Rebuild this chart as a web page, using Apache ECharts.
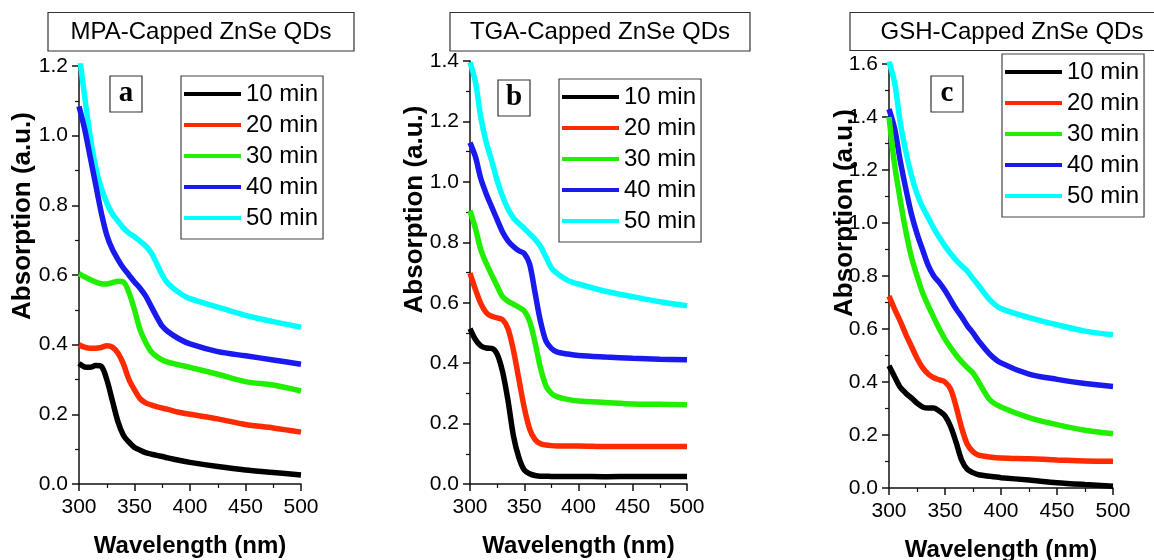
<!DOCTYPE html>
<html>
<head>
<meta charset="utf-8">
<script src="https://cdn.jsdelivr.net/npm/echarts@6/dist/echarts.min.js"></script>
<style>
  html, body { margin: 0; padding: 0; background: #fff; }
  #chart { width: 1154px; height: 560px; }
</style>
</head>
<body>
<div id="chart"></div>
<script>
// wavelength grid (nm), shared by all curves
const wavelengths = [300, 305, 310, 315, 320, 325, 330, 335, 340, 345, 350, 355, 360, 365, 370, 375, 380, 390, 400, 425, 450, 475, 500];
const timeLabels = ['10 min', '20 min', '30 min', '40 min', '50 min'];
const lineColors = ['#000000', '#ff2a00', '#22ee00', '#1a1aee', '#00ffff'];
const panelTitles = ['MPA-Capped ZnSe QDs', 'TGA-Capped ZnSe QDs', 'GSH-Capped ZnSe QDs'];
const panelLetters = ['a', 'b', 'c'];
const yMax = [1.2, 1.4, 1.6];

// (a) MPA
const mpa10 = [0.346, 0.336, 0.335, 0.34, 0.338, 0.30, 0.24, 0.18, 0.14, 0.12, 0.105, 0.097, 0.09, 0.086, 0.082, 0.079, 0.075, 0.068, 0.062, 0.05, 0.04, 0.033, 0.026];
const mpa20 = [0.40, 0.393, 0.39, 0.39, 0.392, 0.397, 0.393, 0.376, 0.345, 0.30, 0.27, 0.245, 0.233, 0.227, 0.222, 0.218, 0.214, 0.206, 0.20, 0.187, 0.171, 0.161, 0.149];
const mpa30 = [0.604, 0.595, 0.587, 0.58, 0.575, 0.574, 0.578, 0.582, 0.58, 0.55, 0.50, 0.443, 0.407, 0.38, 0.366, 0.356, 0.35, 0.342, 0.335, 0.315, 0.294, 0.284, 0.267];
const mpa40 = [1.084, 1.02, 0.94, 0.86, 0.78, 0.715, 0.674, 0.645, 0.62, 0.60, 0.58, 0.562, 0.54, 0.51, 0.48, 0.453, 0.438, 0.417, 0.402, 0.38, 0.368, 0.356, 0.344];
const mpa50 = [1.24, 1.115, 1.00, 0.91, 0.85, 0.807, 0.776, 0.755, 0.735, 0.72, 0.71, 0.697, 0.684, 0.664, 0.633, 0.60, 0.576, 0.55, 0.532, 0.508, 0.484, 0.466, 0.45];

// (b) TGA
const tga10 = [0.514, 0.478, 0.457, 0.45, 0.449, 0.43, 0.372, 0.277, 0.16, 0.088, 0.046, 0.034, 0.028, 0.026, 0.026, 0.025, 0.025, 0.025, 0.025, 0.024, 0.025, 0.025, 0.025];
const tga20 = [0.698, 0.644, 0.597, 0.567, 0.555, 0.55, 0.544, 0.514, 0.443, 0.348, 0.253, 0.182, 0.147, 0.133, 0.129, 0.127, 0.126, 0.126, 0.126, 0.124, 0.124, 0.124, 0.124];
const tga30 = [0.905, 0.846, 0.775, 0.73, 0.692, 0.655, 0.62, 0.605, 0.595, 0.585, 0.573, 0.538, 0.467, 0.384, 0.325, 0.30, 0.289, 0.28, 0.275, 0.27, 0.265, 0.264, 0.262];
const tga40 = [1.13, 1.083, 1.01, 0.96, 0.917, 0.875, 0.834, 0.805, 0.786, 0.772, 0.763, 0.727, 0.632, 0.538, 0.473, 0.449, 0.437, 0.43, 0.425, 0.42, 0.416, 0.413, 0.411];
const tga50 = [1.396, 1.331, 1.213, 1.13, 1.07, 1.005, 0.952, 0.91, 0.881, 0.862, 0.846, 0.828, 0.81, 0.786, 0.751, 0.715, 0.698, 0.674, 0.662, 0.638, 0.62, 0.603, 0.59];

// (c) GSH
const gsh10 = [0.461, 0.42, 0.38, 0.358, 0.34, 0.32, 0.306, 0.302, 0.302, 0.29, 0.272, 0.232, 0.171, 0.104, 0.07, 0.058, 0.05, 0.044, 0.039, 0.03, 0.02, 0.013, 0.007];
const gsh20 = [0.724, 0.675, 0.63, 0.58, 0.535, 0.49, 0.454, 0.43, 0.416, 0.408, 0.40, 0.373, 0.306, 0.225, 0.164, 0.137, 0.124, 0.117, 0.113, 0.11, 0.106, 0.102, 0.101];
const gsh30 = [1.40, 1.22, 1.088, 0.97, 0.872, 0.80, 0.737, 0.688, 0.643, 0.60, 0.562, 0.53, 0.501, 0.476, 0.454, 0.434, 0.40, 0.333, 0.306, 0.266, 0.239, 0.218, 0.205];
const gsh40 = [1.43, 1.357, 1.236, 1.13, 1.034, 0.96, 0.899, 0.84, 0.80, 0.775, 0.745, 0.71, 0.675, 0.645, 0.612, 0.585, 0.555, 0.505, 0.472, 0.43, 0.41, 0.394, 0.383];
const gsh50 = [1.61, 1.53, 1.38, 1.27, 1.18, 1.11, 1.06, 1.02, 0.98, 0.945, 0.913, 0.885, 0.859, 0.838, 0.818, 0.79, 0.764, 0.71, 0.677, 0.643, 0.616, 0.592, 0.578];

const panels = [
  [mpa10, mpa20, mpa30, mpa40, mpa50],
  [tga10, tga20, tga30, tga40, tga50],
  [gsh10, gsh20, gsh30, gsh40, gsh50]
];

// layout, in pixels
const grids = [
  { left: 79, top: 66, width: 222, height: 418 },
  { left: 470, top: 61, width: 217, height: 423 },
  { left: 889, top: 64, width: 224, height: 424 }
];
const yNameGaps = [43, 42, 31];
const yNameShift = [118, 126, 126];
const legendPos = [
  { left: 181, top: 76 },
  { left: 559, top: 79 },
  { left: 1002, top: 54 }
];
const titleBoxes = [
  { x: 48, y: 12.5, w: 306, h: 38.5, cx: 201 },
  { x: 450, y: 12.5, w: 300, h: 38.5, cx: 600 },
  { x: 850, y: 12.5, w: 320, h: 38, cx: 1012 }
];
const letterBoxes = [
  { x: 110, y: 76 },
  { x: 498, y: 80 },
  { x: 931, y: 76 }
];

const font = '"Liberation Sans", Arial, sans-serif';

const xAxes = grids.map((g, i) => ({
  type: 'value', gridIndex: i, min: 300, max: 500, interval: 50,
  name: 'Wavelength (nm)', nameLocation: 'middle', nameGap: 50, nameMoveOverlap: false,
  nameTextStyle: { fontFamily: font, fontWeight: 'bold', fontSize: 24, color: '#000' },
  axisLine: { lineStyle: { color: '#111', width: 1.5 } },
  axisTick: { length: 7, lineStyle: { color: '#111', width: 1.5 } },
  minorTick: { show: true, splitNumber: 2, length: 4, lineStyle: { color: '#111', width: 1.2 } },
  splitLine: { show: false },
  axisLabel: { fontFamily: font, fontSize: 21, color: '#000', margin: 13 }
}));

const yAxes = grids.map((g, i) => ({
  type: 'value', gridIndex: i, min: 0, max: yMax[i], interval: 0.2,
  name: 'Absorption (a.u.)', nameLocation: 'middle', nameGap: yNameGaps[i], nameRotate: 90, nameMoveOverlap: false,
  nameTextStyle: { fontFamily: font, fontWeight: 'bold', fontSize: 26, color: '#000', padding: [0, 0, 0, yNameShift[i]] },
  axisLine: { show: true, lineStyle: { color: '#111', width: 1.5 } },
  axisTick: { show: true, length: 7, lineStyle: { color: '#111', width: 1.5 } },
  minorTick: { show: true, splitNumber: 2, length: 4, lineStyle: { color: '#111', width: 1.2 } },
  splitLine: { show: false },
  axisLabel: { fontFamily: font, fontSize: 21, color: '#000', margin: 11, formatter: v => v.toFixed(1) }
}));

const series = [];
panels.forEach((curves, p) => {
  curves.forEach((vals, k) => {
    series.push({
      type: 'line', name: timeLabels[k], xAxisIndex: p, yAxisIndex: p,
      data: wavelengths.map((w, j) => [w, vals[j]]),
      symbol: 'none', smooth: 0.3,
      lineStyle: { color: lineColors[k], width: 5.5 },
      itemStyle: { color: lineColors[k] },
      z: 10 - k
    });
  });
});

const legends = legendPos.map(pos => ({
  left: pos.left, top: pos.top, orient: 'vertical',
  data: timeLabels, icon: 'rect', itemWidth: 57, itemHeight: 4, itemGap: 5,
  padding: [5, 5, 8, 3], borderColor: '#444', borderWidth: 1.2,
  selectedMode: false,
  textStyle: { fontFamily: font, fontSize: 24, color: '#000', lineHeight: 26 }
}));

const graphics = [];
titleBoxes.forEach((b, i) => {
  graphics.push({ type: 'rect', shape: { x: b.x, y: b.y, width: b.w, height: b.h },
    style: { fill: '#fff', stroke: '#333', lineWidth: 1.2 } });
  graphics.push({ type: 'text', x: b.cx, y: b.y + b.h / 2 + 1,
    style: { text: panelTitles[i], fontFamily: font, fontSize: 24, fill: '#000', align: 'center', verticalAlign: 'middle' } });
});
letterBoxes.forEach((b, i) => {
  graphics.push({ type: 'rect', shape: { x: b.x, y: b.y, width: 32, height: 36 },
    style: { fill: '#fff', stroke: '#333', lineWidth: 1.2 }, z: 20 });
  graphics.push({ type: 'text', x: b.x + 16, y: b.y + 18, z: 21,
    style: { text: panelLetters[i], fontFamily: '"Liberation Serif", "Times New Roman", serif', fontWeight: 'bold', fontSize: 29, fill: '#000', align: 'center', verticalAlign: 'middle' } });
});

const chart = echarts.init(document.getElementById('chart'));
chart.setOption({
  animation: false,
  backgroundColor: '#fff',
  grid: grids.map(g => Object.assign({ containLabel: false, outerBoundsMode: 'none' }, g)),
  xAxis: xAxes,
  yAxis: yAxes,
  legend: legends,
  series: series,
  graphic: graphics
});
</script>
</body>
</html>
